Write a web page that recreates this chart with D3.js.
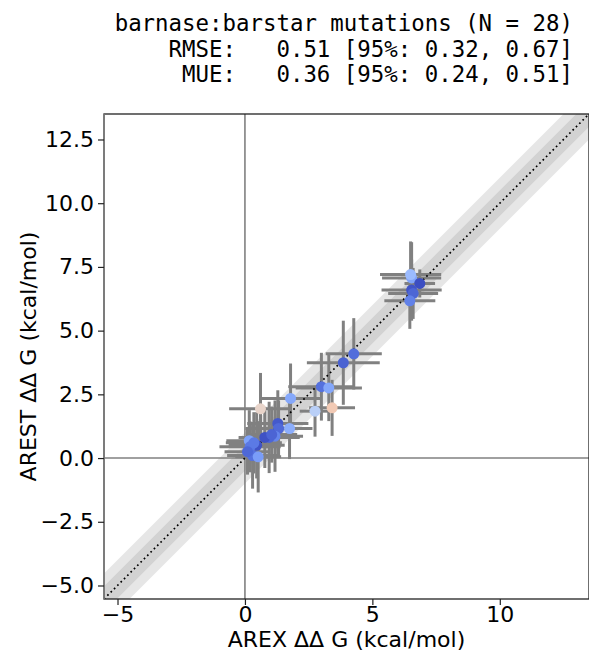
<!DOCTYPE html>
<html>
<head>
<meta charset="utf-8">
<script src="https://cdn.jsdelivr.net/npm/d3@7"></script>
<style>
  body { margin: 0; background: #fff; }
  svg text { font-family: "DejaVu Sans", sans-serif; fill: #000; }
  .title { font-family: "DejaVu Sans Mono", monospace; font-size: 22.4px; white-space: pre; }
</style>
</head>
<body>
<div id="chart"></div>
<script>
// AREX (experimental) vs AREST (calculated) ddG, kcal/mol
const arexDDG  = [6.54, 6.50, 6.86, 6.54, 6.60, 6.47, 4.27, 3.86, 3.00, 3.29, 1.79, 0.61, 2.75, 3.42,
                  1.29, 1.32, 1.75, 1.18, 0.95, 0.78, 0.17, 0.46, 0.20, 0.30, 0.52, 0.35, 1.05, 0.10];
const arestDDG = [7.07, 7.20, 6.85, 6.59, 6.46, 6.17, 4.09, 3.74, 2.80, 2.75, 2.34, 1.93, 1.84, 1.97,
                  1.36, 1.16, 1.16, 0.86, 0.81, 0.81, 0.68, 0.50, 0.44, 0.10, 0.05, 0.60, 0.92, 0.25];
const arexErr  = [1.16, 1.20, 0.60, 1.18, 0.98, 1.00, 1.10, 1.43, 1.30, 1.30, 1.20, 1.23, 0.60, 0.90,
                  1.20, 1.30, 0.90, 1.10, 1.20, 1.00, 0.90, 1.10, 1.20, 1.00, 0.90, 1.10, 1.00, 0.90];
const arestErr = [1.40, 1.30, 0.55, 1.20, 1.00, 1.10, 1.40, 1.65, 1.33, 1.30, 1.37, 1.41, 1.00, 1.10,
                  1.30, 1.10, 1.20, 1.40, 1.40, 1.20, 1.20, 1.30, 1.00, 1.30, 1.40, 1.20, 1.10, 0.90];

const xTicks = [-5, 0, 5, 10];
const yTicks = [-5, -2.5, 0, 2.5, 5, 7.5, 10, 12.5];
const axisRange = [-5.53, 13.5];
const bandWidths = [1.0, 0.5];

const titleLines = [
  'barnase:barstar mutations (N = 28)',
  'RMSE:   0.51 [95%: 0.32, 0.67]',
  'MUE:   0.36 [95%: 0.24, 0.51]'
];

const W = 589, H = 652;
const pLeft = 104, pTop = 114, size = 485;
const fontSize = '22px';

const svg = d3.select('#chart').append('svg')
  .attr('width', W).attr('height', H);

const x = d3.scaleLinear().domain(axisRange).range([pLeft, pLeft + size]);
const y = d3.scaleLinear().domain(axisRange).range([pTop + size, pTop]);

// coolwarm, coloured by distance from the diagonal
const coolwarm = ['#3b4cc0', '#5a78e4', '#7b9ff9', '#9ebeff', '#c0d4f5', '#dddcdc',
                  '#f2cbb7', '#f7ac8e', '#ee8468', '#d65244', '#b40426'];
const color = d3.scaleLinear()
  .domain(d3.range(coolwarm.length).map(i => i * 2.4 / (coolwarm.length - 1)))
  .range(coolwarm)
  .clamp(true);

svg.append('clipPath').attr('id', 'plotclip')
  .append('rect').attr('x', pLeft).attr('y', pTop).attr('width', size).attr('height', size);

const plot = svg.append('g').attr('clip-path', 'url(#plotclip)');

// shaded bands around y = x
const [lo, hi] = axisRange;
bandWidths.forEach(d => {
  const pts = [[lo, lo - d], [hi, hi - d], [hi, hi + d], [lo, lo + d]];
  plot.append('path')
    .attr('d', 'M' + pts.map(p => [x(p[0]), y(p[1])].join(',')).join('L') + 'Z')
    .attr('fill', '#808080')
    .attr('fill-opacity', 0.2);
});

// zero lines
plot.append('line')
  .attr('x1', x(0)).attr('x2', x(0)).attr('y1', pTop).attr('y2', pTop + size)
  .attr('stroke', '#808080').attr('stroke-width', 1.6);
plot.append('line')
  .attr('x1', pLeft).attr('x2', pLeft + size).attr('y1', y(0)).attr('y2', y(0))
  .attr('stroke', '#808080').attr('stroke-width', 1.6);

const data = arexDDG.map((v, i) => ({
  x: v, y: arestDDG[i], xe: arexErr[i], ye: arestErr[i]
}));

// error bars
const bars = plot.append('g').attr('stroke', '#808080').attr('stroke-width', 3);
bars.selectAll('line.xe').data(data).enter().append('line')
  .attr('class', 'xe')
  .attr('x1', d => x(d.x - d.xe)).attr('x2', d => x(d.x + d.xe))
  .attr('y1', d => y(d.y)).attr('y2', d => y(d.y));
bars.selectAll('line.ye').data(data).enter().append('line')
  .attr('class', 'ye')
  .attr('x1', d => x(d.x)).attr('x2', d => x(d.x))
  .attr('y1', d => y(d.y - d.ye)).attr('y2', d => y(d.y + d.ye));

// diagonal
plot.append('line')
  .attr('x1', x(lo)).attr('y1', y(lo)).attr('x2', x(hi)).attr('y2', y(hi))
  .attr('stroke', '#000').attr('stroke-width', 1.7)
  .attr('stroke-dasharray', '1.7,3');

// points
plot.selectAll('circle').data(data).enter().append('circle')
  .attr('cx', d => x(d.x)).attr('cy', d => y(d.y)).attr('r', 5.5)
  .attr('fill', d => color(Math.abs(d.x - d.y)));

// frame
svg.append('rect')
  .attr('x', pLeft).attr('y', pTop).attr('width', size).attr('height', size)
  .attr('fill', 'none').attr('stroke', '#222').attr('stroke-width', 1.3);
svg.append('line')
  .attr('x1', pLeft).attr('x2', pLeft).attr('y1', pTop).attr('y2', pTop + size)
  .attr('stroke', '#808080').attr('stroke-width', 1.6);

// axes
const fmtY = d => d3.format('.1f')(d).replace('-', '\u2212');
const fmtX = d => String(d).replace('-', '\u2212');

const xAxis = svg.append('g')
  .attr('transform', `translate(0,${pTop + size})`)
  .call(d3.axisBottom(x).tickValues(xTicks).tickFormat(fmtX).tickSize(6).tickPadding(1));
const yAxis = svg.append('g')
  .attr('transform', `translate(${pLeft},0)`)
  .call(d3.axisLeft(y).tickValues(yTicks).tickFormat(fmtY).tickSize(6).tickPadding(4));

[xAxis, yAxis].forEach(a => {
  a.select('.domain').remove();
  a.selectAll('line').attr('stroke', '#222').attr('stroke-width', 1.2);
  a.selectAll('text').style('font-size', fontSize).style('font-family', '"DejaVu Sans", sans-serif');
});

svg.append('text')
  .attr('x', pLeft + size / 2).attr('y', 647)
  .attr('text-anchor', 'middle').style('font-size', fontSize)
  .text('AREX \u0394\u0394 G (kcal/mol)');
svg.append('text')
  .attr('transform', `translate(36,${pTop + size / 2}) rotate(-90)`)
  .attr('text-anchor', 'middle').style('font-size', fontSize)
  .text('AREST \u0394\u0394 G (kcal/mol)');

svg.selectAll('text.title').data(titleLines).enter().append('text')
  .attr('class', 'title')
  .attr('x', 573).attr('y', (d, i) => 31 + i * 25.5)
  .attr('text-anchor', 'end')
  .text(d => d);
</script>
</body>
</html>
